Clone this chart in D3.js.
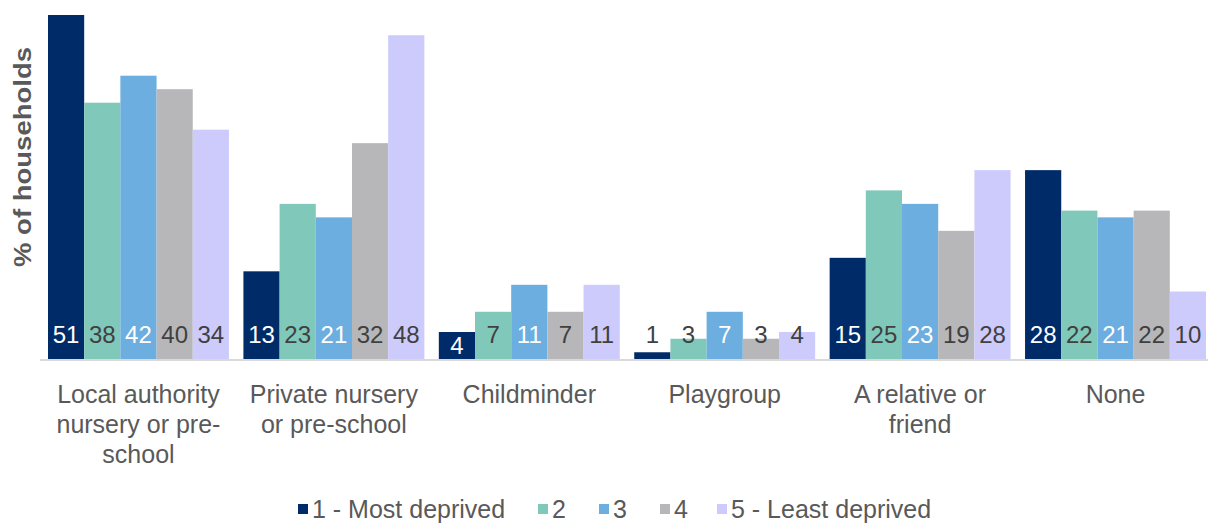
<!DOCTYPE html>
<html>
<head>
<meta charset="utf-8">
<script src="https://cdn.jsdelivr.net/npm/d3@7"></script>
<style>
  body { margin: 0; background: #fff; }
  text { font-family: "Liberation Sans", Arial, sans-serif; }
</style>
</head>
<body>
<div id="chart"></div>
<script>
// Data
const categories = [
	['Local authority', 'nursery or pre-', 'school'],
	['Private nursery', 'or pre-school'],
	['Childminder'],
	['Playgroup'],
	['A relative or', 'friend'],
	['None']
];
const seriesNames = ['1 - Most deprived', '2', '3', '4', '5 - Least deprived'];
const seriesColors = ['#002b69', '#80c9ba', '#6caee0', '#b7b7b9', '#cccbfc'];
const labelColors = ['#ffffff', '#404040', '#ffffff', '#404040', '#404040'];
const values = [
	[51, 13, 4, 1, 15, 28],   // 1 - Most deprived
	[38, 23, 7, 3, 25, 22],   // 2
	[42, 21, 11, 7, 23, 21],  // 3
	[40, 32, 7, 3, 19, 22],   // 4
	[34, 48, 11, 4, 28, 10]   // 5 - Least deprived
];

const width = 1208, height = 524;
const baseY = 359, topY = 15;

const svg = d3.select('#chart').append('svg')
	.attr('width', width)
	.attr('height', height);

// Scales
const x0 = d3.scaleBand()
	.domain(d3.range(categories.length))
	.range([48, 1206])
	.paddingInner(0.074)
	.paddingOuter(0);

const x1 = d3.scaleBand()
	.domain(d3.range(seriesNames.length))
	.range([0, x0.bandwidth()]);

const y = d3.scaleLinear()
	.domain([0, d3.max(values.flat())])
	.range([baseY, topY]);

// Flatten into bar records
const bars = [];
values.forEach((row, s) => row.forEach((v, c) => bars.push({ s, c, v })));

const g = svg.append('g');

g.selectAll('rect')
	.data(bars)
	.join('rect')
	.attr('x', d => x0(d.c) + x1(d.s))
	.attr('y', d => y(d.v))
	.attr('width', x1.bandwidth())
	.attr('height', d => baseY - y(d.v))
	.attr('fill', d => seriesColors[d.s]);

// Baseline
svg.append('line')
	.attr('x1', 40).attr('x2', 1208)
	.attr('y1', baseY + 1).attr('y2', baseY + 1)
	.attr('stroke', '#d9d9d9')
	.attr('stroke-width', 2);

// Value labels at the inside base of each bar
const defaultY = baseY - 16;
const tooShort = d => y(d.v) > defaultY - 18;
g.selectAll('text.val')
	.data(bars)
	.join('text')
	.attr('class', 'val')
	.attr('x', d => x0(d.c) + x1(d.s) + x1.bandwidth() / 2)
	.attr('y', d => {
		if (labelColors[d.s] === '#ffffff' && tooShort(d) && baseY - y(d.v) >= 24) {
			return Math.min(y(d.v) + 22, baseY - 4);
		}
		return defaultY;
	})
	.attr('text-anchor', 'middle')
	.attr('font-size', 24)
	.attr('fill', d => {
		if (labelColors[d.s] === '#ffffff' && tooShort(d) && baseY - y(d.v) < 24) return '#404040';
		return labelColors[d.s];
	})
	.text(d => d.v);

// Category labels
const cat = svg.append('g')
	.selectAll('text')
	.data(categories)
	.join('text')
	.attr('x', (d, i) => x0(i) + x0.bandwidth() / 2)
	.attr('y', 403)
	.attr('text-anchor', 'middle')
	.attr('font-size', 25)
	.attr('fill', '#595959');

cat.selectAll('tspan')
	.data(d => d)
	.join('tspan')
	.attr('x', function() { return d3.select(this.parentNode).attr('x'); })
	.attr('dy', (d, i) => i === 0 ? 0 : 30)
	.text(d => d);

// Y axis title
svg.append('text')
	.attr('transform', 'translate(31, 157) rotate(-90)')
	.attr('text-anchor', 'middle')
	.attr('font-size', 24)
	.attr('font-weight', 'bold')
	.attr('fill', '#595959')
	.attr('textLength', 220)
	.attr('lengthAdjust', 'spacingAndGlyphs')
	.text('% of households');

// Legend
const legendX = [298, 538, 599, 660, 717];
const legend = svg.append('g')
	.selectAll('g')
	.data(seriesNames)
	.join('g')
	.attr('transform', (d, i) => `translate(${legendX[i]}, 510)`);

legend.append('rect')
	.attr('x', 0)
	.attr('y', -6)
	.attr('width', 10)
	.attr('height', 10)
	.attr('fill', (d, i) => seriesColors[i]);

legend.append('text')
	.attr('x', 14)
	.attr('y', 8)
	.attr('font-size', 25)
	.attr('fill', '#595959')
	.text(d => d);
</script>
</body>
</html>
